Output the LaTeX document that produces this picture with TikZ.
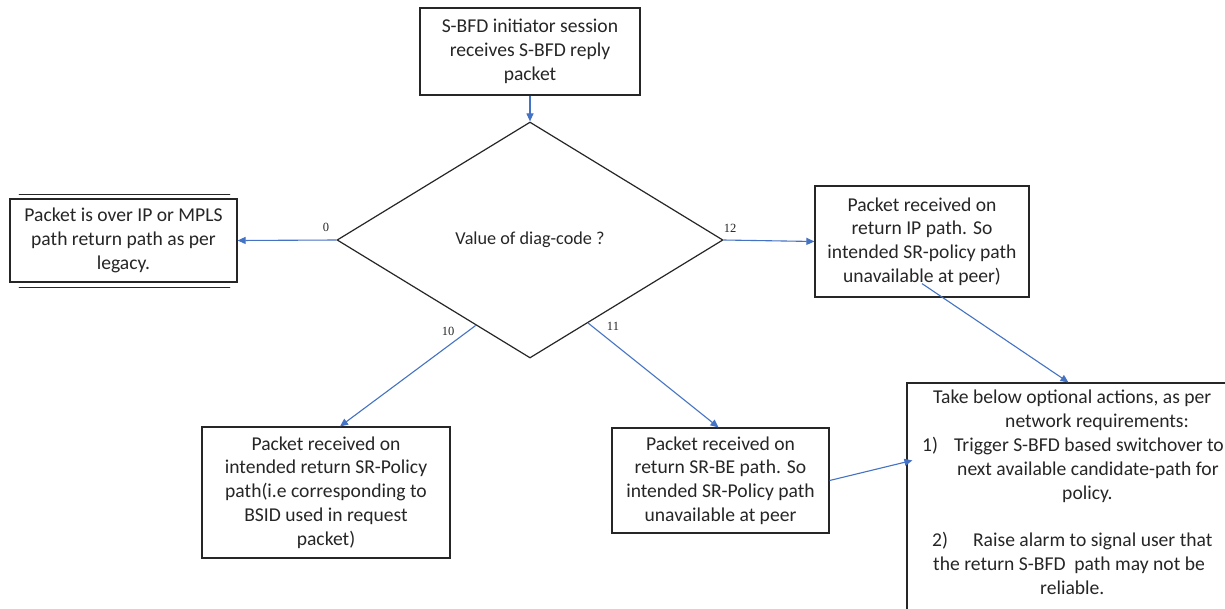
\documentclass[tikz,border=0pt]{standalone}
\usepackage{fontspec}
\setmainfont{Carlito}
\newfontfamily\codefont{Liberation Serif}
\usetikzlibrary{arrows.meta,shapes.geometric,calc}
\definecolor{flow}{HTML}{4472C4}
\definecolor{ink}{HTML}{262626}
\begin{document}
\begin{tikzpicture}[x=1pt,y=-1pt,
  every node/.style={text=ink},
  txt/.style={font=\fontsize{19.6}{23.8}\selectfont},
  box/.style={draw=ink,line width=1.2pt,rectangle,inner sep=2pt,align=center,txt},
  link/.style={draw=flow,line width=1.1pt,-{Triangle[length=8pt,width=7pt]}},
  code/.style={font=\codefont\fontsize{12.5}{14}\selectfont,inner sep=0pt}]
\useasboundingbox[fill=white] (0,0) rectangle (1225,608);
\clip (0,0) rectangle (1225,608);

% start and decision
\node[box,minimum width=220pt,minimum height=87pt] (start) at (530,51.5)
  {S-BFD initiator session\\receives S-BFD reply\\packet};
\node[draw=ink,line width=1.2pt,diamond,minimum width=386pt,minimum height=236pt,
  inner sep=0pt,font=\fontsize{18.2}{22}\selectfont] (dia) at (530,240) {Value of diag-code ?};

% outcome boxes
\node[box,minimum width=227pt,minimum height=83pt] (lbox) at (123.5,240.5)
  {Packet is over IP or MPLS\\path return path as per\\legacy.};
\draw[ink,line width=1.6pt,line cap=round] ($(lbox.north west)+(10,-4)$) -- ($(lbox.north east)+(-8,-4)$);
\draw[ink,line width=1.6pt,line cap=round] ($(lbox.south west)+(10,5)$) -- ($(lbox.south east)+(-8,5)$);
\node[box,minimum width=214pt,minimum height=111pt] (rbox) at (922,241.5)
  {Packet received on\\return IP path. So\\intended SR-policy path\\unavailable at peer)};
\node[box,minimum width=248pt,minimum height=131pt] (bl) at (326,492.5)
  {Packet received on\\intended return SR-Policy\\path(i.e corresponding to\\BSID used in request\\packet)};
\node[box,minimum width=217pt,minimum height=105pt] (bm) at (720.5,480.5)
  {Packet received on\\return SR-BE path. So\\intended SR-Policy path\\unavailable at peer};
\node[draw=ink,line width=1.2pt,rectangle,minimum width=323pt,minimum height=258pt,inner sep=0pt]
  (act) at (1068.5,512) {};
\node[txt,align=left,anchor=north west,inner sep=0pt] (acttext) at (922,390)
  {\hspace*{11pt}Take below optional actions, as per\\
   \hspace*{83pt}network requirements:\\
   1)\hspace{16pt}Trigger S-BFD based switchover to\\
   \hspace*{35pt}next available candidate-path for\\
   \hspace*{140pt}policy.\\[23.8pt]
   \hspace*{10pt}2)\hspace{25pt}Raise alarm to signal user that\\
   \hspace*{11pt}the return S-BFD\ \ path may not be\\
   \hspace*{118pt}reliable.};

% connectors
\coordinate (p10) at ($(dia.west)!0.72!(dia.south)$);
\coordinate (p11) at ($(dia.east)!0.70!(dia.south)$);
\coordinate (pr) at ($(rbox.south)+(0,-14)$);
\draw[link] (start.south) -- (dia.north);
\draw[link] (dia.west) -- (lbox.east);
\draw[link] (dia.east) -- (rbox.west);
\draw[link] (p10) -- ([xshift=14pt]bl.north);
\draw[link] (p11) -- ([xshift=-2pt]bm.north);
\draw[link] (pr) -- (act.north);
\draw[link] (bm.east) -- ($(act.north west)+(6,78)$);

% branch values
\node[code] (c0) at (326,227) {0};
\node[code] (c12) at (730,228) {12};
\node[code] (c10) at (448,331) {10};
\node[code] (c11) at (613,326) {11};
\end{tikzpicture}
\end{document}
